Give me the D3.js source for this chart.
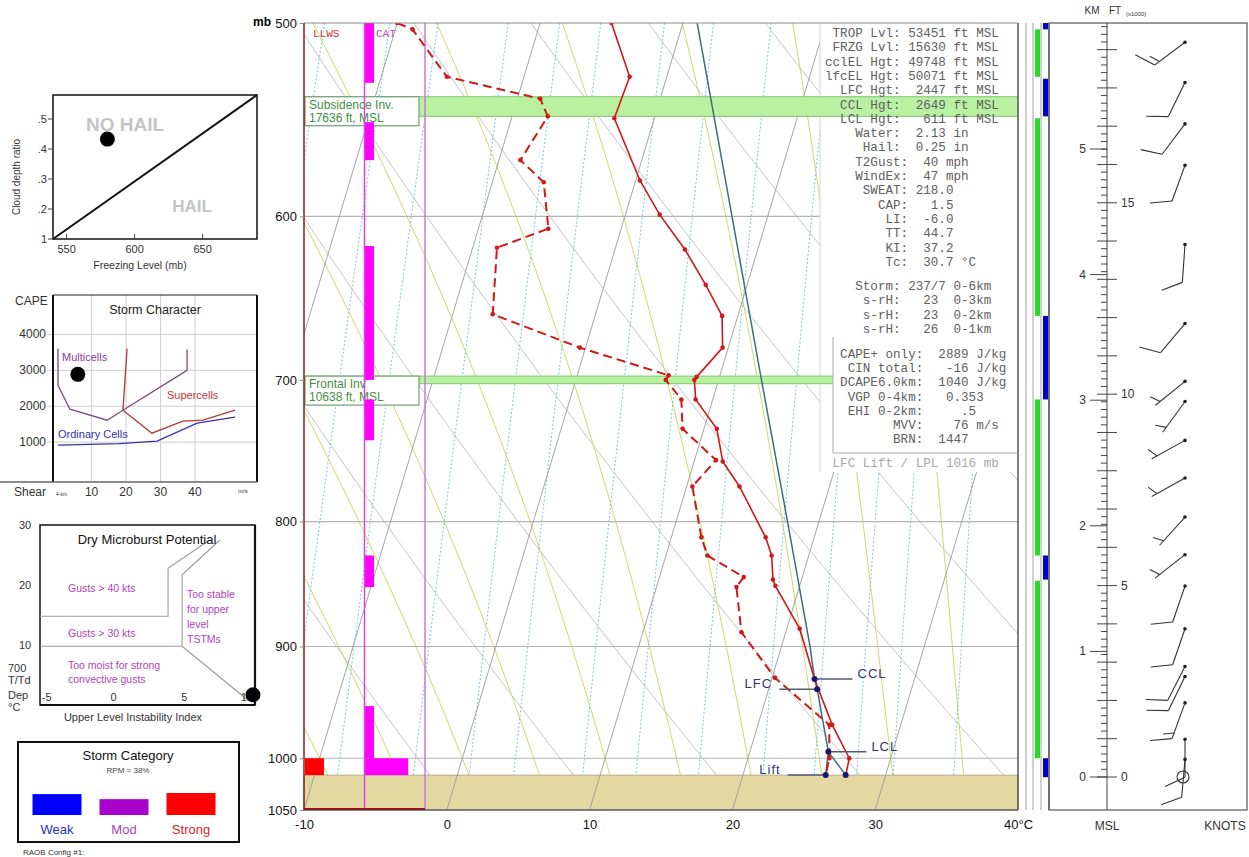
<!DOCTYPE html>
<html>
<head>
<meta charset="utf-8">
<script src="https://cdn.jsdelivr.net/npm/d3@7"></script>
<style>
  body { margin: 0; background: #fff; }
  svg text { font-family: "Liberation Sans", Arial, sans-serif; }
  .mono { font-family: "Liberation Mono", "Courier New", monospace; white-space: pre; }
</style>
</head>
<body>
<svg id="chart" width="1249" height="857"></svg>
<script>
// ---------- Sounding data (pressure mb / temperature °C) ----------
const tempP = [500, 526, 547, 580, 599, 619, 640, 659, 679, 698, 700, 713, 733, 756, 774, 812, 826, 845, 850, 885, 928, 969, 1000, 1016];
const tempC = [-5.0, -2.6, -2.8, 0.3, 2.4, 4.9, 7.1, 8.9, 9.6, 8.4, 8.3, 8.8, 10.9, 12.0, 13.7, 16.6, 17.4, 18.0, 18.3, 20.9, 23.0, 25.2, 27.1, 27.2];

const dewP = [500, 503, 526, 537, 546, 569, 581, 607, 618, 658, 679, 697, 700, 713, 733, 755, 774, 812, 826, 843, 851, 888, 927, 969, 1000, 1016];
const dewC = [-20.0, -18.8, -15.4, -8.4, -7.5, -8.5, -6.4, -5.1, -8.3, -7.2, -0.4, 6.4, 6.3, 7.8, 8.5, 11.5, 10.4, 12.1, 12.9, 15.9, 15.6, 16.9, 20.2, 25.0, 25.7, 25.8];

// lifted parcel path (moist part above the LCL)
const parcelP = [500, 600, 700, 800, 900, 928, 937, 994];
const parcelC = [1.0, 7.5, 13.0, 17.8, 22.0, 23.0, 23.4, 25.5];

// key levels
const keyNames = ["CCL", "LFC", "LCL", "Lift"];
const keyP = [928, 937, 994, 1016];
const keyC = [23.0, 23.4, 25.5, 25.8];
const keySide = [1, -1, 1, -1];
const surfaceP = 1016;
const surfaceT = 27.2;

// inversions
const invNames = ["Subsidence Inv.", "Frontal Inv"];
const invHgt = ["17636 ft, MSL", "10638 ft, MSL"];
const invTop = [536, 697.5];
const invBot = [546, 702.5];

// CAT column layers [top p, bottom p, intensity]
const catTop = [500, 549, 617, 713, 826, 952, 1000];
const catBot = [529, 569, 700, 741, 851, 1000, 1016];
const catLevel = [1, 1, 1, 1, 1, 1, 4.8];
const llwsTop = [1000];
const llwsBot = [1016];

// right strip
const greenTop = [503, 547, 713, 846];
const greenBot = [526, 659, 826, 1000];
const blueTop = [500, 527, 659, 826, 1000];
const blueBot = [503, 546, 713, 845, 1018];

// winds (height km, direction deg, speed kt)
const windKm = [5.85, 5.53, 5.20, 4.87, 4.24, 3.61, 3.15, 2.99, 2.68, 2.38, 2.07, 1.77, 1.52, 1.18, 0.88, 0.80, 0.59, 0.30, 0.14];
const windDir = [233, 206, 217, 200, 184, 220, 231, 216, 241, 241, 222, 232, 199, 199, 207, 206, 200, 180, 185];
const windSpd = [15, 10, 10, 10, 10, 10, 5, 5, 5, 5, 5, 5, 10, 10, 10, 10, 15, 10, 10];

// background reference lines
const isothermC = [-30, -20, -10, 0, 10, 20, 30, 40];
const dryThetaK = [250, 260, 270, 280, 290, 300, 310, 320, 330, 340, 350, 360, 370];
const moistThetaW = [-10, -5, 0, 5, 10, 15, 20, 25, 30, 35];
const mixRatio = [1, 1.5, 2, 3, 4, 5, 7, 9, 12, 16, 20, 24, 28, 36];

const pressureTicks = [500, 600, 700, 800, 900, 1000, 1050];
const tempTicks = [-10, 0, 10, 20, 30, 40];

// indices text panel
const indexRows = [
  " TROP Lvl: 53451 ft MSL",
  " FRZG Lvl: 15630 ft MSL",
  "cclEL Hgt: 49748 ft MSL",
  "lfcEL Hgt: 50071 ft MSL",
  "  LFC Hgt:  2447 ft MSL",
  "  CCL Hgt:  2649 ft MSL",
  "  LCL Hgt:   611 ft MSL",
  "    Water:  2.13 in",
  "     Hail:  0.25 in",
  "    T2Gust:  40 mph",
  "    WindEx:  47 mph",
  "     SWEAT: 218.0",
  "       CAP:   1.5",
  "        LI:  -6.0",
  "        TT:  44.7",
  "        KI:  37.2",
  "        Tc:  30.7 °C"
];
const stormRows = [
  "    Storm: 237/7 0-6km",
  "     s-rH:   23  0-3km",
  "     s-rH:   23  0-2km",
  "     s-rH:   26  0-1km"
];
const capeRows = [
  "  CAPE+ only:  2889 J/kg",
  "   CIN total:   -16 J/kg",
  "  DCAPE6.0km:  1040 J/kg",
  "   VGP 0-4km:   0.353",
  "   EHI 0-2km:     .5",
  "         MVV:    76 m/s",
  "         BRN:  1447"
];
const footRow = " LFC Lift / LPL 1016 mb";

// ---------- left panels data ----------
const hailTicksX = [550, 600, 650];
const hailTicksY = [0.1, 0.2, 0.3, 0.4, 0.5];
const hailTickLabels = ["1", ".2", ".3", ".4", ".5"];
const hailLineFL = [540, 690];
const hailLineRatio = [0.1, 0.58];
const hailPoint = [580, 0.433];

const capeTicks = [1000, 2000, 3000, 4000];
const shearTicks = [10, 20, 30, 40];
const multiShear = [0.25, 0.25, 3.7, 14.5, 19.1, 37.7, 37.7];
const multiCape = [3611, 2583, 1917, 1611, 1889, 3000, 3583];
const superShear = [20.3, 19.1, 27.5, 36.5, 42.3, 51.6];
const superCape = [3611, 1889, 1250, 1583, 1611, 1889];
const ordShear = [0.25, 18, 29, 40.6, 51.6];
const ordCape = [917, 960, 1028, 1528, 1694];
const stormPoint = [6, 2889];

const uliTicks = [-5, 0, 5, 10];
const depTicks = [10, 20, 30];
const mbLineA = [[-5.5, 14.8], [4.09, 14.8], [4.09, 22.8], [7.2, 27.5]];
const mbLineB = [[-5.5, 9.8], [5.14, 9.8], [5.14, 21.7], [7.98, 27.5]];
const mbLineC = [[5.14, 9.8], [10.08, 0.8]];
const mbPoint = [10.45, 1.7];

const catNames = ["Weak", "Mod", "Strong"];
const catFill = ["#0000ff", "#aa00cc", "#ff0000"];
const catText = ["#2233bb", "#aa44bb", "#dd2222"];
const catValue = [0.95, 0.72, 1.0];

// ---------- setup ----------
const svg = d3.select("#chart");
const pScale = d3.scaleLog().domain([500, 1050]).range([23, 810]);
const tScale = d3.scaleLinear().domain([-10, 40]).range([304, 1018]);
const SKEW = 0.3;
const skewX = (T, p) => tScale(T) + SKEW * (pScale(1050) - pScale(p));
const plotL = 304, plotR = 1018, plotT = 23, plotB = 810;
const surfY = pScale(surfaceP);

const defs = svg.append("defs");
defs.append("clipPath").attr("id", "plotClip").append("rect")
  .attr("x", plotL).attr("y", plotT).attr("width", plotR - plotL).attr("height", plotB - plotT);
defs.append("clipPath").attr("id", "airClip").append("rect")
  .attr("x", plotL).attr("y", plotT).attr("width", plotR - plotL).attr("height", surfY - plotT);

const ptLine = d3.line().x(d => skewX(d[1], d[0])).y(d => pScale(d[0]));

// thermodynamic helpers for the reference lines
function esat(tc) { return 6.112 * Math.exp(17.67 * tc / (tc + 243.5)); }
function dewFromE(e) { const l = Math.log(e / 6.112); return 243.5 * l / (17.67 - l); }
function moistLapse(tk, p) {
  const es = esat(tk - 273.15);
  const rs = 0.622 * es / (p - es);
  return (1 / p) * (287.04 * tk + 2.501e6 * rs) /
    (1005.7 + 2.501e6 * 2.501e6 * rs * 0.622 / (287.04 * tk * tk));
}
function moistCurve(thw) {
  const out = [];
  [-5, 5].forEach(dp => {
    let T = thw + 273.15, p = 1000;
    const seg = [[p, T - 273.15]];
    while ((dp < 0 && p > 500) || (dp > 0 && p < 1050)) {
      const k1 = moistLapse(T, p);
      const k2 = moistLapse(T + k1 * dp / 2, p + dp / 2);
      T += k2 * dp; p += dp;
      seg.push([p, T - 273.15]);
    }
    if (dp < 0) out.push(...seg.reverse()); else out.push(...seg.slice(1));
  });
  return out;
}
const pSteps = d3.range(500, 1051, 10);

// ---------- main skew-T background ----------
const bg = svg.append("g").attr("clip-path", "url(#airClip)");

bg.selectAll(".dry").data(dryThetaK).join("path")
  .attr("d", th => ptLine(pSteps.map(p => [p, th * Math.pow(p / 1000, 0.2857) - 273.15])))
  .attr("fill", "none").attr("stroke", "#bdbdbd").attr("stroke-width", 0.9);

bg.selectAll(".moist").data(moistThetaW).join("path")
  .attr("d", tw => ptLine(moistCurve(tw)))
  .attr("fill", "none").attr("stroke", "#cdd96a").attr("stroke-width", 1);

bg.selectAll(".mix").data(mixRatio).join("path")
  .attr("d", w => ptLine(pSteps.map(p => [p, dewFromE(w * p / (622 + w))])))
  .attr("fill", "none").attr("stroke", "#78c4de").attr("stroke-width", 1)
  .attr("stroke-dasharray", "2,2");

// pressure lines
svg.append("g").selectAll("line").data(pressureTicks.filter(p => p > 500 && p < 1050)).join("line")
  .attr("x1", plotL).attr("x2", plotR)
  .attr("y1", d => pScale(d)).attr("y2", d => pScale(d))
  .attr("stroke", "#b4b4b4").attr("stroke-width", 1.2);

// surface (ground) area
svg.append("rect").attr("x", plotL).attr("y", surfY).attr("width", plotR - plotL)
  .attr("height", plotB - surfY).attr("fill", "#e3d7a2").attr("stroke", "#a89f80").attr("stroke-width", 0.8);

// isotherms
svg.append("g").attr("clip-path", "url(#plotClip)").selectAll("path").data(isothermC).join("path")
  .attr("d", t => ptLine([[1050, t], [500, t]]))
  .attr("fill", "none").attr("stroke", "#9a9a9a").attr("stroke-width", 0.9);

// ---------- indices panel background ----------
svg.append("rect").attr("x", 820).attr("y", plotT).attr("width", plotR - 820).attr("height", 449)
  .attr("fill", "#fff");
svg.append("line").attr("x1", 820).attr("x2", 820).attr("y1", plotT).attr("y2", 472)
  .attr("stroke", "#d6d6d6");

// ---------- inversions ----------
invNames.forEach((name, i) => {
  const y0 = pScale(invTop[i]), y1 = pScale(invBot[i]);
  const xEnd = i === 0 ? plotR : 833;
  svg.append("rect").attr("x", 419).attr("y", y0).attr("width", xEnd - 419).attr("height", y1 - y0)
    .attr("fill", "#b9f0a2");
  svg.append("line").attr("x1", plotL).attr("x2", xEnd).attr("y1", y0).attr("y2", y0)
    .attr("stroke", "#7cc76c").attr("stroke-width", 1);
  svg.append("line").attr("x1", 419).attr("x2", xEnd).attr("y1", y1).attr("y2", y1)
    .attr("stroke", "#7cc76c").attr("stroke-width", 1);
  const box = svg.append("g");
  box.append("rect").attr("x", 305).attr("y", y0).attr("width", 114).attr("height", 29)
    .attr("fill", "#fff").attr("stroke", "#6f9f6f").attr("stroke-width", 1.2);
  box.append("text").attr("x", 309).attr("y", y0 + 12).attr("font-size", 12).attr("fill", "#3f8f3f").text(name);
  box.append("text").attr("x", 309).attr("y", y0 + 25).attr("font-size", 12).attr("fill", "#3f8f3f").text(invHgt[i]);
});

// ---------- LLWS / CAT column ----------
const colG = svg.append("g");
colG.selectAll(".llws").data(llwsTop).join("rect")
  .attr("x", plotL + 1).attr("y", d => pScale(d)).attr("width", 19)
  .attr("height", (d, i) => pScale(llwsBot[i]) - pScale(d)).attr("fill", "#ff0000");
colG.selectAll(".cat").data(catTop).join("rect")
  .attr("x", 365).attr("y", d => pScale(d)).attr("width", (d, i) => catLevel[i] * 9)
  .attr("height", (d, i) => pScale(catBot[i]) - pScale(d)).attr("fill", "#ff00ff");
colG.append("line").attr("x1", 364.5).attr("x2", 364.5).attr("y1", plotT).attr("y2", plotB)
  .attr("stroke", "#e040e0").attr("stroke-width", 1.5);
colG.append("line").attr("x1", 425).attr("x2", 425).attr("y1", plotT).attr("y2", plotB)
  .attr("stroke", "#cc77dd").attr("stroke-width", 1.5);
colG.append("text").attr("class", "mono").attr("x", 313).attr("y", 37).attr("font-size", 11)
  .attr("fill", "#cc3333").text("LLWS");
colG.append("text").attr("class", "mono").attr("x", 376).attr("y", 37).attr("font-size", 11)
  .attr("fill", "#cc44cc").text("CAT");

// ---------- parcel path ----------
const lcl = [keyP[2], keyC[2]];
const parcelPts = parcelP.map((p, i) => [p, parcelC[i]]);
const pathG = svg.append("g").attr("clip-path", "url(#plotClip)");
pathG.append("path").attr("d", ptLine(parcelPts)).attr("fill", "none")
  .attr("stroke", "#3a7179").attr("stroke-width", 1.5);
pathG.append("path").attr("d", ptLine([lcl, [surfaceP, surfaceT]])).attr("fill", "none")
  .attr("stroke", "#3a7179").attr("stroke-width", 1.5);
pathG.append("path").attr("d", ptLine([lcl, [keyP[3], keyC[3]]])).attr("fill", "none")
  .attr("stroke", "#3a7179").attr("stroke-width", 1.5);

// ---------- temperature & dewpoint ----------
const tPts = tempP.map((p, i) => [p, tempC[i]]);
const dPts = dewP.map((p, i) => [p, dewC[i]]);
pathG.append("path").attr("d", ptLine(dPts)).attr("fill", "none")
  .attr("stroke", "#d01818").attr("stroke-width", 2).attr("stroke-dasharray", "9,5");
pathG.append("path").attr("d", ptLine(tPts)).attr("fill", "none")
  .attr("stroke", "#d01818").attr("stroke-width", 1.6);
pathG.selectAll(".tdot").data(tPts.concat(dPts)).join("circle")
  .attr("cx", d => skewX(d[1], d[0])).attr("cy", d => pScale(d[0])).attr("r", 2.3)
  .attr("fill", "#d01818");

// ---------- key levels ----------
const keyG = svg.append("g");
keyNames.forEach((name, i) => {
  const x = skewX(keyC[i], keyP[i]), yy = pScale(keyP[i]);
  const s = keySide[i];
  keyG.append("line").attr("x1", x).attr("x2", x + s * 38).attr("y1", yy).attr("y2", yy)
    .attr("stroke", "#555a75").attr("stroke-width", 1.5);
  keyG.append("text").attr("x", s > 0 ? x + 43 : x - 45)
    .attr("y", yy - 1).attr("text-anchor", s > 0 ? "start" : "end")
    .attr("font-family", "Liberation Serif, Times New Roman, serif")
    .attr("font-size", 13).attr("letter-spacing", 1).attr("fill", "#33337a").text(name);
});
keyG.selectAll("circle").data(keyP.map((p, i) => [p, keyC[i]]).concat([[surfaceP, surfaceT]])).join("circle")
  .attr("cx", d => skewX(d[1], d[0])).attr("cy", d => pScale(d[0])).attr("r", 3)
  .attr("fill", "#18186a");

// ---------- frame & axes ----------
svg.append("line").attr("x1", plotL).attr("x2", plotR).attr("y1", plotT).attr("y2", plotT).attr("stroke", "#8a8a8a");
svg.append("line").attr("x1", plotL).attr("x2", plotR).attr("y1", plotB).attr("y2", plotB).attr("stroke", "#666").attr("stroke-width", 1.5);
svg.append("line").attr("x1", plotL).attr("x2", 425).attr("y1", plotB - 1).attr("y2", plotB - 1).attr("stroke", "#8b1a1a").attr("stroke-width", 2);
svg.append("line").attr("x1", plotL).attr("x2", plotL).attr("y1", plotT).attr("y2", plotB).attr("stroke", "#8b1a1a").attr("stroke-width", 1.5);
svg.append("line").attr("x1", plotR).attr("x2", plotR).attr("y1", plotT).attr("y2", plotB).attr("stroke", "#555").attr("stroke-width", 1.5);

const yAxisG = svg.append("g").attr("transform", `translate(${plotL},0)`)
  .call(d3.axisLeft(pScale).tickValues(pressureTicks).tickFormat(d3.format("d")).tickSize(4).tickPadding(3));
yAxisG.select(".domain").remove();
yAxisG.selectAll("text").attr("font-size", 13).attr("fill", "#111").attr("font-family", "Liberation Sans, Arial");
yAxisG.selectAll("line").attr("stroke", "#888");
svg.append("text").attr("x", 262).attr("y", 26).attr("text-anchor", "middle").attr("font-size", 12)
  .attr("font-weight", "bold").text("mb");

const xAxisG = svg.append("g").attr("transform", `translate(0,${plotB})`)
  .call(d3.axisBottom(tScale).tickValues(tempTicks).tickFormat(d => d === 40 ? "40°C" : d).tickSize(0).tickPadding(10));
xAxisG.select(".domain").remove();
xAxisG.selectAll("text").attr("font-size", 13).attr("fill", "#111").attr("font-family", "Liberation Sans, Arial");

// ---------- indices text ----------
const txtG = svg.append("g").attr("class", "mono").attr("font-size", 12.6).attr("fill", "#606060");
const rowText = (rows, y0, dy) => rows.forEach((r, i) => {
  txtG.append("text").attr("class", "mono").attr("x", 825).attr("y", y0 + i * dy)
    .attr("dominant-baseline", "central").attr("xml:space", "preserve").text(r);
});
rowText(indexRows, 34, 14.3);
rowText(stormRows, 287, 14.3);
rowText(capeRows, 355, 14.2);
txtG.append("text").attr("class", "mono").attr("x", 825).attr("y", 464).attr("dominant-baseline", "central")
  .attr("xml:space", "preserve").attr("fill", "#a8a8a8").text(footRow);
svg.append("line").attr("x1", 833).attr("x2", 833).attr("y1", 337).attr("y2", 453).attr("stroke", "#a8a8a8");
svg.append("line").attr("x1", 833).attr("x2", plotR).attr("y1", 453).attr("y2", 453).attr("stroke", "#a8a8a8");

// ---------- right strip ----------
[1026, 1033, 1041, 1049].forEach(x => {
  svg.append("line").attr("x1", x).attr("x2", x).attr("y1", plotT).attr("y2", plotB)
    .attr("stroke", x === 1049 ? "#555" : "#a0a0a0").attr("stroke-width", x === 1049 ? 1.2 : 1);
});
svg.selectAll(".gbar").data(greenTop).join("rect")
  .attr("x", 1035).attr("width", 5).attr("y", d => pScale(d))
  .attr("height", (d, i) => pScale(greenBot[i]) - pScale(d)).attr("fill", "#22dd22");
svg.selectAll(".bbar").data(blueTop).join("rect")
  .attr("x", 1043).attr("width", 5).attr("y", d => pScale(d))
  .attr("height", (d, i) => pScale(blueBot[i]) - pScale(d)).attr("fill", "#0000cc");

// ---------- height axis & winds ----------
const hScale = d3.scaleLinear().domain([0, 5]).range([777, 149]);
const hx = 1107;
const hG = svg.append("g");
hG.append("rect").attr("x", 1049).attr("y", plotT).attr("width", 198).attr("height", plotB - plotT)
  .attr("fill", "none").attr("stroke", "#555").attr("stroke-width", 1.2);
hG.append("line").attr("x1", hx).attr("x2", hx).attr("y1", plotT).attr("y2", plotB).attr("stroke", "#444");
d3.range(0, 19801, 200).forEach(f => {
  const yy = hScale(f / 3280.84);
  if (yy < plotT) return;
  const major = f % 1000 === 0;
  hG.append("line").attr("x1", major ? hx - 10 : hx - 6).attr("x2", major ? hx + 10 : hx)
    .attr("y1", yy).attr("y2", yy).attr("stroke", "#444");
  if (f % 5000 === 0) {
    hG.append("text").attr("x", hx + 14).attr("y", yy).attr("dominant-baseline", "central")
      .attr("font-size", 12).attr("fill", "#333").text(f / 1000);
  }
});
d3.range(0, 6).forEach(k => {
  const yy = hScale(k);
  hG.append("line").attr("x1", hx - 17).attr("x2", hx).attr("y1", yy).attr("y2", yy).attr("stroke", "#444");
  hG.append("text").attr("x", hx - 21).attr("y", yy).attr("dominant-baseline", "central")
    .attr("text-anchor", "end").attr("font-size", 12).attr("fill", "#333").text(k);
});
hG.append("text").attr("x", 1092).attr("y", 14).attr("text-anchor", "middle").attr("font-size", 10).attr("fill", "#333").text("KM");
hG.append("text").attr("x", 1115).attr("y", 14).attr("text-anchor", "middle").attr("font-size", 10).attr("fill", "#333").text("FT");
hG.append("text").attr("x", 1126).attr("y", 16).attr("font-size", 6).attr("fill", "#333").text("(x1000)");
hG.append("text").attr("x", 1107).attr("y", 830).attr("text-anchor", "middle").attr("font-size", 12).attr("fill", "#333").text("MSL");
hG.append("text").attr("x", 1225).attr("y", 830).attr("text-anchor", "middle").attr("font-size", 12).attr("fill", "#333").text("KNOTS");

const barbX = 1185;
function drawBarb(g, x0, y0, dir, spd) {
  const a = dir * Math.PI / 180;
  const ux = Math.sin(a), uy = -Math.cos(a);
  const L = 38, F = 22, gap = 6;
  const ex = x0 + ux * L, ey = y0 + uy * L;
  g.append("line").attr("x1", x0).attr("y1", y0).attr("x2", ex).attr("y2", ey);
  const r = 65 * Math.PI / 180;
  const fx = ux * Math.cos(r) - uy * Math.sin(r), fy = ux * Math.sin(r) + uy * Math.cos(r);
  const s = Math.round(spd / 5) * 5;
  const full = Math.floor(s / 10), half = s % 10 >= 5 ? 1 : 0;
  let pos = 0;
  for (let i = 0; i < full; i++, pos++) {
    const bx = ex - ux * pos * gap, by = ey - uy * pos * gap;
    g.append("line").attr("x1", bx).attr("y1", by).attr("x2", bx + fx * F).attr("y2", by + fy * F);
  }
  if (half) {
    if (full === 0) pos = 1;
    const bx = ex - ux * pos * gap, by = ey - uy * pos * gap;
    g.append("line").attr("x1", bx).attr("y1", by).attr("x2", bx + fx * F / 2).attr("y2", by + fy * F / 2);
  }
  g.append("circle").attr("cx", x0).attr("cy", y0).attr("r", 1.8).attr("fill", "#222").attr("stroke", "none");
}
const windG = svg.append("g").attr("stroke", "#333").attr("stroke-width", 1.1).attr("fill", "none");
windKm.forEach((k, i) => drawBarb(windG, barbX, hScale(k), windDir[i], windSpd[i]));
windG.append("circle").attr("cx", barbX - 2).attr("cy", hScale(0)).attr("r", 6);

// ---------- Hail panel ----------
const hailX = d3.scaleLinear().domain([540, 690]).range([53, 257]);
const hailY = d3.scaleLinear().domain([0.1, 0.58]).range([239, 95]);
const hailG = svg.append("g");
hailG.append("rect").attr("x", 53).attr("y", 95).attr("width", 204).attr("height", 144)
  .attr("fill", "#fff").attr("stroke", "#111").attr("stroke-width", 1.5);
hailG.append("line").attr("x1", hailX(hailLineFL[0])).attr("y1", hailY(hailLineRatio[0]))
  .attr("x2", hailX(hailLineFL[1])).attr("y2", hailY(hailLineRatio[1])).attr("stroke", "#111").attr("stroke-width", 2);
hailG.append("text").attr("x", 125).attr("y", 131).attr("text-anchor", "middle").attr("font-size", 19)
  .attr("font-weight", "bold").attr("fill", "#c4c4c4").text("NO HAIL");
hailG.append("text").attr("x", 192).attr("y", 212).attr("text-anchor", "middle").attr("font-size", 17)
  .attr("font-weight", "bold").attr("fill", "#c4c4c4").text("HAIL");
hailG.append("circle").attr("cx", hailX(hailPoint[0])).attr("cy", hailY(hailPoint[1])).attr("r", 7.5).attr("fill", "#000");
hailTicksY.forEach((v, i) => {
  hailG.append("line").attr("x1", 48).attr("x2", 53).attr("y1", hailY(v)).attr("y2", hailY(v)).attr("stroke", "#444");
  hailG.append("text").attr("x", 47).attr("y", hailY(v)).attr("text-anchor", "end").attr("dominant-baseline", "central")
    .attr("font-size", 11).attr("fill", "#333").text(hailTickLabels[i]);
});
hailTicksX.forEach(v => {
  hailG.append("line").attr("x1", hailX(v)).attr("x2", hailX(v)).attr("y1", 234).attr("y2", 239).attr("stroke", "#444");
  hailG.append("text").attr("x", hailX(v)).attr("y", 253).attr("text-anchor", "middle").attr("font-size", 11)
    .attr("fill", "#333").text(v);
});
hailG.append("text").attr("transform", "translate(20,177) rotate(-90)").attr("text-anchor", "middle")
  .attr("font-size", 10).attr("fill", "#333").text("Cloud depth ratio");
hailG.append("text").attr("x", 140).attr("y", 269).attr("text-anchor", "middle").attr("font-size", 10.5)
  .attr("fill", "#333").text("Freezing Level (mb)");

// ---------- Storm Character panel ----------
const shearX = d3.scaleLinear().domain([-1.2, 58]).range([53, 257]);
const capeY = d3.scaleLinear().domain([0, 5100]).range([478, 295]);
const scG = svg.append("g");
capeTicks.forEach(v => {
  scG.append("line").attr("x1", 47).attr("x2", 257).attr("y1", capeY(v)).attr("y2", capeY(v)).attr("stroke", "#cfcfcf");
  scG.append("text").attr("x", 46).attr("y", capeY(v)).attr("text-anchor", "end").attr("dominant-baseline", "central")
    .attr("font-size", 12).attr("fill", "#333").text(v);
});
shearTicks.forEach(v => {
  scG.append("line").attr("x1", shearX(v)).attr("x2", shearX(v)).attr("y1", 295).attr("y2", 482).attr("stroke", "#cfcfcf");
  scG.append("text").attr("x", shearX(v)).attr("y", 492).attr("text-anchor", "middle").attr("dominant-baseline", "central")
    .attr("font-size", 12).attr("fill", "#333").text(v);
});
scG.append("line").attr("x1", 53).attr("x2", 257).attr("y1", 295).attr("y2", 295).attr("stroke", "#222");
scG.append("line").attr("x1", 53).attr("x2", 53).attr("y1", 295).attr("y2", 482).attr("stroke", "#111").attr("stroke-width", 2);
scG.append("line").attr("x1", 257).attr("x2", 257).attr("y1", 295).attr("y2", 482).attr("stroke", "#111").attr("stroke-width", 2);
scG.append("line").attr("x1", 0).attr("x2", 257).attr("y1", 482).attr("y2", 482).attr("stroke", "#666").attr("stroke-width", 1.5);
const scLine = d3.line().x(d => shearX(d[0])).y(d => capeY(d[1]));
scG.append("path").attr("d", scLine(ordShear.map((s, i) => [s, ordCape[i]]))).attr("fill", "none")
  .attr("stroke", "#3333aa").attr("stroke-width", 1.3);
scG.append("path").attr("d", scLine(superShear.map((s, i) => [s, superCape[i]]))).attr("fill", "none")
  .attr("stroke", "#b03838").attr("stroke-width", 1.3);
scG.append("path").attr("d", scLine(multiShear.map((s, i) => [s, multiCape[i]]))).attr("fill", "none")
  .attr("stroke", "#7a4a80").attr("stroke-width", 1.3);
scG.append("text").attr("x", 155).attr("y", 310).attr("text-anchor", "middle").attr("dominant-baseline", "central")
  .attr("font-size", 12.5).attr("fill", "#222").text("Storm Character");
scG.append("text").attr("x", 62).attr("y", 361).attr("font-size", 11).attr("fill", "#8a3a9a").text("Multicells");
scG.append("text").attr("x", 167).attr("y", 399).attr("font-size", 11).attr("fill", "#cc3333").text("Supercells");
scG.append("text").attr("x", 58).attr("y", 438).attr("font-size", 11).attr("fill", "#3333aa").text("Ordinary Cells");
scG.append("circle").attr("cx", shearX(stormPoint[0])).attr("cy", capeY(stormPoint[1])).attr("r", 7.5).attr("fill", "#000");
scG.append("text").attr("x", 15).attr("y", 301).attr("dominant-baseline", "central").attr("font-size", 12).attr("fill", "#333").text("CAPE");
scG.append("text").attr("x", 14).attr("y", 492).attr("dominant-baseline", "central").attr("font-size", 12).attr("fill", "#333").text("Shear");
scG.append("text").attr("x", 56).attr("y", 496).attr("font-size", 5).attr("fill", "#333").text("4-km");
scG.append("text").attr("x", 238).attr("y", 493).attr("font-size", 6).attr("fill", "#333").text("m/s");

// ---------- Dry Microburst panel ----------
const uliX = d3.scaleLinear().domain([-5.5, 10.6]).range([40, 255]);
const depY = d3.scaleLinear().domain([0, 30]).range([705, 525]);
const mbG = svg.append("g");
mbG.append("rect").attr("x", 40).attr("y", 525).attr("width", 215).attr("height", 180)
  .attr("fill", "#fff").attr("stroke", "#111").attr("stroke-width", 1.5);
mbG.append("line").attr("x1", 255).attr("x2", 255).attr("y1", 525).attr("y2", 705).attr("stroke", "#111").attr("stroke-width", 2.2);
mbG.append("line").attr("x1", 40).attr("x2", 255).attr("y1", 705).attr("y2", 705).attr("stroke", "#111").attr("stroke-width", 2.2);
const mbLine = d3.line().x(d => uliX(d[0])).y(d => depY(d[1]));
[mbLineA, mbLineB, mbLineC].forEach(l => {
  mbG.append("path").attr("d", mbLine(l)).attr("fill", "none").attr("stroke", "#9a9a9a").attr("stroke-width", 1.1);
});
mbG.append("text").attr("x", 147).attr("y", 539).attr("text-anchor", "middle").attr("dominant-baseline", "central")
  .attr("font-size", 13).attr("fill", "#111").text("Dry Microburst Potential");
const mbTxt = [["Gusts > 40 kts", 68, 588], ["Gusts > 30 kts", 68, 633], ["Too moist for strong", 68, 665], ["convective gusts", 68, 679],
  ["Too stable", 187, 594], ["for upper", 187, 609], ["level", 187, 624], ["TSTMs", 187, 639]];
mbTxt.forEach(t => mbG.append("text").attr("x", t[1]).attr("y", t[2]).attr("dominant-baseline", "central")
  .attr("font-size", 10.5).attr("fill", "#b044b8").text(t[0]));
depTicks.forEach(v => mbG.append("text").attr("x", 25).attr("y", depY(v)).attr("text-anchor", "middle")
  .attr("dominant-baseline", "central").attr("font-size", 11).attr("fill", "#333").text(v));
uliTicks.forEach(v => mbG.append("text").attr("x", uliX(v) + (v === 5 ? 4 : 0)).attr("y", 697).attr("text-anchor", "middle")
  .attr("dominant-baseline", "central").attr("font-size", 11).attr("fill", "#333").text(v));
[["700", 668], ["T/Td", 680], ["Dep", 695], ["°C", 707]].forEach(t => mbG.append("text").attr("x", 8).attr("y", t[1])
  .attr("dominant-baseline", "central").attr("font-size", 11).attr("fill", "#333").text(t[0]));
mbG.append("text").attr("x", 133).attr("y", 717).attr("text-anchor", "middle").attr("dominant-baseline", "central")
  .attr("font-size", 11).attr("fill", "#333").text("Upper Level Instability Index");
mbG.append("circle").attr("cx", uliX(mbPoint[0])).attr("cy", depY(mbPoint[1])).attr("r", 7.5).attr("fill", "#000");

// ---------- Storm Category panel ----------
const catG = svg.append("g");
catG.append("rect").attr("x", 18).attr("y", 742).attr("width", 221).attr("height", 100)
  .attr("fill", "#fff").attr("stroke", "#111").attr("stroke-width", 2);
catG.append("text").attr("x", 128).attr("y", 755).attr("text-anchor", "middle").attr("dominant-baseline", "central")
  .attr("font-size", 13).attr("fill", "#111").text("Storm Category");
catG.append("text").attr("x", 128).attr("y", 770).attr("text-anchor", "middle").attr("dominant-baseline", "central")
  .attr("font-size", 8).attr("fill", "#444").text("RPM = 38%");
const catX = d3.scalePoint().domain(catNames).range([57, 191]);
const catH = d3.scaleLinear().domain([0, 1]).range([0, 22]);
catG.selectAll(".cbar").data(catNames).join("rect")
  .attr("x", d => catX(d) - 24.5).attr("width", 49)
  .attr("y", (d, i) => 815 - catH(catValue[i])).attr("height", (d, i) => catH(catValue[i]))
  .attr("fill", (d, i) => catFill[i]);
catG.selectAll(".clab").data(catNames).join("text")
  .attr("x", d => catX(d)).attr("y", 829).attr("text-anchor", "middle").attr("dominant-baseline", "central")
  .attr("font-size", 13).attr("fill", (d, i) => catText[i]).text(d => d);
svg.append("text").attr("x", 23).attr("y", 855).attr("font-size", 8).attr("fill", "#333").text("RAOB Config #1:");
</script>
</body>
</html>
